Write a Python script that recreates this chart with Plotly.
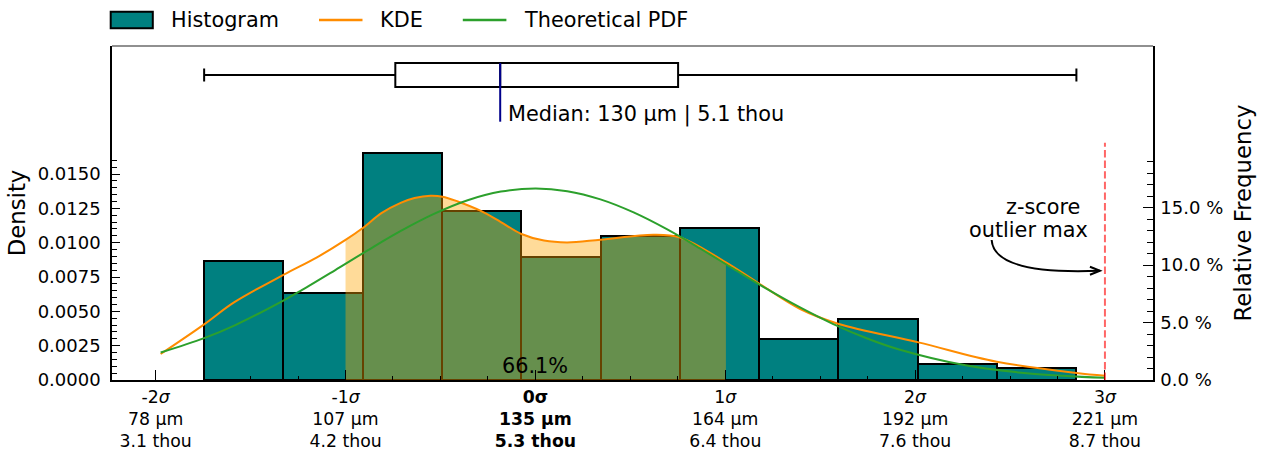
import plotly.graph_objects as go

# ---------------- data ----------------
bin_edges_um = [85.30, 97.25, 109.19, 121.14, 133.08, 145.03, 156.97,
                168.92, 180.86, 192.81, 204.75, 216.70]
bin_density = [0.00869, 0.00631, 0.01650, 0.01231, 0.00898, 0.01049,
               0.01107, 0.00301, 0.00446, 0.00117, 0.00087]

kde_x_um = [78.75, 85.3, 89.8, 97.3, 102.3, 106.6, 109.2, 112.0, 114.9, 117.0,
            119.4, 121.2, 123.5, 126.9, 130.0, 133.1, 136.5, 140.0, 145.0, 153.0,
            157.0, 163.9, 169.0, 175.1, 180.9, 192.9, 204.7, 216.7, 221.0]
kde_density = [0.00189, 0.00405, 0.00565, 0.00767, 0.00893, 0.01020, 0.01107,
               0.01215, 0.01290, 0.01325, 0.01342, 0.01335, 0.01300, 0.01233,
               0.01150, 0.01063, 0.01015, 0.01002, 0.01022, 0.01058, 0.01038,
               0.00856, 0.00699, 0.00517, 0.00408, 0.00274, 0.00133, 0.00051,
               0.00031]

pdf_x_um = [78.75, 85.3, 90.0, 97.3, 100.0, 105.0, 110.0, 115.0, 120.0, 125.0,
            130.0, 135.2, 140.0, 145.0, 150.0, 155.0, 160.0, 165.0, 170.0,
            175.0, 180.0, 185.0, 190.0, 200.0, 210.0, 221.0]
pdf_density = [0.00200, 0.00305, 0.00400, 0.00580, 0.00654, 0.00799, 0.00946,
               0.01087, 0.01211, 0.01309, 0.01372, 0.01395, 0.01375, 0.01315,
               0.01220, 0.01098, 0.00958, 0.00811, 0.00665, 0.00530, 0.00409,
               0.00306, 0.00222, 0.00107, 0.00046, 0.00016]

mean_um = 135.2
sigma_um = 28.6
box_lowerfence_um = 85.3
box_q1_um = 114.1
box_median_um = 129.9
box_q3_um = 156.7
box_upperfence_um = 216.7
within_1sigma_text = "66.1%"
median_text = "Median: 130 µm | 5.1 thou"
outlier_max_um = 221.0
outlier_line_top = 0.01728

x_tick_sigma = [-2, -1, 0, 1, 2, 3]
x_tick_sigma_text = ["-2σ", "-1σ", "0σ", "1σ", "2σ", "3σ"]
x_tick_um_text = ["78 µm", "107 µm", "135 µm", "164 µm", "192 µm", "221 µm"]
x_tick_thou_text = ["3.1 thou", "4.2 thou", "5.3 thou", "6.4 thou", "7.6 thou", "8.7 thou"]

y_tick_vals = [0.0, 0.0025, 0.005, 0.0075, 0.01, 0.0125, 0.015]
y_tick_text = ["0.0000", "0.0025", "0.0050", "0.0075", "0.0100", "0.0125", "0.0150"]
rf_tick_vals = [0, 5, 10, 15]
rf_tick_text = ["0.0 %", "5.0 %", "10.0 %", "15.0 %"]

legend_names = ["Histogram", "KDE", "Theoretical PDF"]

# ---------------- styling / layout constants ----------------
W, H = 1268, 452
ML, MR, MT, MB = 112, 115, 46, 72
PW, PH = W - ML - MR, H - MT - MB
FONT = "DejaVu Sans"
TEAL = "#008080"
KDE_C = "darkorange"
PDF_C = "#2ca02c"
FILL_C = "rgba(255,165,0,0.4)"

x_range = [71.42, 228.24]
y_range = [0.0, 0.02432]
y3_range = [-0.9132, 0.0868]

px_per_x = PW / (x_range[1] - x_range[0])
px_per_y = PH / (y_range[1] - y_range[0])

def dx(px):
    return px / px_per_x

def dy(px):
    return px / px_per_y

def paper_x(px):
    return (px - ML) / PW

def paper_y(py):
    return (MT + PH - py) / PH

bin_centers = [(a + b) / 2 for a, b in zip(bin_edges_um[:-1], bin_edges_um[1:])]
bin_widths = [b - a for a, b in zip(bin_edges_um[:-1], bin_edges_um[1:])]
mean_bin_width = sum(bin_widths) / len(bin_widths)

lo, hi = mean_um - sigma_um, mean_um + sigma_um
fill_pts = [(x, y) for x, y in zip(kde_x_um, kde_density) if lo - 0.5 <= x <= hi + 0.5]

fig = go.Figure()

fig.add_trace(go.Bar(
    x=bin_centers, y=bin_density, width=bin_widths,
    marker=dict(color=TEAL, line=dict(color="black", width=2)),
    name=legend_names[0], showlegend=False, hoverinfo="skip"))

fig.add_trace(go.Scatter(
    x=[p[0] for p in fill_pts], y=[p[1] for p in fill_pts],
    mode="lines", line=dict(width=0, shape="spline"),
    fill="tozeroy", fillcolor=FILL_C, showlegend=False, hoverinfo="skip"))

fig.add_trace(go.Scatter(
    x=kde_x_um, y=kde_density, mode="lines",
    line=dict(color=KDE_C, width=2, shape="spline"),
    name=legend_names[1], showlegend=False))

fig.add_trace(go.Scatter(
    x=pdf_x_um, y=pdf_density, mode="lines",
    line=dict(color=PDF_C, width=2, shape="spline"),
    name=legend_names[2], showlegend=False))

# box plot in the top band (overlaid axis)
box_w = 24 / PH * (y3_range[1] - y3_range[0])
fig.add_trace(go.Box(
    y=[0], q1=[box_q1_um], median=[box_median_um], q3=[box_q3_um],
    lowerfence=[box_lowerfence_um], upperfence=[box_upperfence_um],
    orientation="h", width=box_w, whiskerwidth=0.55,
    fillcolor="white", line=dict(color="black", width=2),
    boxpoints=False, yaxis="y3", showlegend=False, hoverinfo="skip"))

y3_per_px = (y3_range[1] - y3_range[0]) / PH
fig.add_trace(go.Scatter(
    x=[box_median_um, box_median_um], y=[box_w / 2, -46.7 * y3_per_px],
    mode="lines", line=dict(color="darkblue", width=2),
    yaxis="y3", showlegend=False, hoverinfo="skip"))

fig.add_trace(go.Scatter(x=[mean_um], y=[0.0], yaxis="y2", mode="markers",
                         marker=dict(opacity=0), showlegend=False, hoverinfo="skip"))

# ---------------- ticks ----------------
x_tick_vals = [mean_um + k * sigma_um for k in x_tick_sigma]
x_tick_text = []
for k, s, u, t in zip(x_tick_sigma, x_tick_sigma_text, x_tick_um_text, x_tick_thou_text):
    if k == 0:
        x_tick_text.append(f"<b>{s}</b><br><b>{u}</b><br><b>{t}</b>")
    else:
        x_tick_text.append(f"{s[:-1]}<i>σ</i><br>{u}<br>{t}")
x_minor = [mean_um + q * sigma_um / 4 for q in range(-8, 13) if q % 4 != 0]
y_minor = [i * 0.0005 for i in range(0, 33) if i % 5 != 0]
rf_minor = [i for i in range(0, 20) if i % 5 != 0]

tickfont = dict(family=FONT, size=18, color="black")

fig.update_layout(
    width=W, height=H, template="none",
    margin=dict(l=ML, r=MR, t=MT, b=MB, autoexpand=False),
    paper_bgcolor="white", plot_bgcolor="white",
    font=dict(family=FONT, size=18, color="black"),
    bargap=0, showlegend=False,
    xaxis=dict(range=x_range, showgrid=False, zeroline=False,
               showline=True, linecolor="black", linewidth=1.5,
               ticks="inside", ticklen=10, tickwidth=1.2, tickcolor="black",
               tickvals=x_tick_vals, ticktext=x_tick_text,
               tickfont=dict(family=FONT, size=17.3, color="black"),
               ticklabelstandoff=0, automargin=False,
               minor=dict(tickvals=x_minor, ticks="inside", ticklen=4,
                          tickwidth=1, tickcolor="black", showgrid=False)),
    yaxis=dict(range=y_range, showgrid=False, zeroline=False,
               showline=True, linecolor="black", linewidth=1.5,
               ticks="inside", ticklen=8, tickwidth=1.2, tickcolor="black",
               tickvals=y_tick_vals, ticktext=y_tick_text, tickfont=tickfont,
               ticklabelstandoff=6, automargin=False,
               title=dict(text="Density", font=dict(family=FONT, size=22.8), standoff=6),
               minor=dict(tickvals=y_minor, ticks="inside", ticklen=5,
                          tickwidth=1, tickcolor="black", showgrid=False)),
    yaxis2=dict(range=[y_range[0] * mean_bin_width * 100, y_range[1] * mean_bin_width * 100],
                overlaying="y", side="right", anchor="x",
                showgrid=False, zeroline=False,
                showline=True, linecolor="black", linewidth=1.5,
                ticks="inside", ticklen=10, tickwidth=1.2, tickcolor="black",
                tickvals=rf_tick_vals, ticktext=rf_tick_text, tickfont=tickfont,
                ticklabelstandoff=2, automargin=False,
                title=dict(text="Relative Frequency", font=dict(family=FONT, size=22.8), standoff=13),
                minor=dict(tickvals=rf_minor, ticks="inside", ticklen=6,
                           tickwidth=1, tickcolor="black", showgrid=False)),
    yaxis3=dict(range=y3_range, overlaying="y", visible=False, fixedrange=True),
)

shapes = []
# top frame line of the box band
shapes.append(dict(type="line", xref="paper", yref="paper", x0=0, x1=1, y0=1, y1=1,
                   line=dict(color="#222", width=1.2)))
# z-score outlier max line
shapes.append(dict(type="line", xref="x", yref="y", x0=outlier_max_um, x1=outlier_max_um,
                   y0=0, y1=outlier_line_top,
                   line=dict(color="rgba(255,0,0,0.6)", width=2, dash="7.4px,3.2px")))
# curved arrow
tip_x, tip_y = outlier_max_um - dx(5), dy(109.3)
st_x, st_y = outlier_max_um - dx(113.3), dy(140)
c_x, c_y = outlier_max_um - dx(111), dy(105)
shapes.append(dict(type="path", xref="x", yref="y",
                   path=f"M {st_x},{st_y} Q {c_x},{c_y} {tip_x},{tip_y}",
                   line=dict(color="black", width=2)))
shapes.append(dict(type="path", xref="x", yref="y",
                   path=f"M {tip_x - dx(10)},{tip_y + dy(4)} L {tip_x},{tip_y} L {tip_x - dx(10)},{tip_y - dy(4)}",
                   line=dict(color="black", width=2)))
# manual legend
shapes.append(dict(type="rect", xref="paper", yref="paper",
                   x0=paper_x(110.7), x1=paper_x(152.8), y0=paper_y(28.3), y1=paper_y(11.7),
                   fillcolor=TEAL, line=dict(color="black", width=2)))
shapes.append(dict(type="line", xref="paper", yref="paper",
                   x0=paper_x(319), x1=paper_x(362.5), y0=paper_y(20), y1=paper_y(20),
                   line=dict(color=KDE_C, width=2.5)))
shapes.append(dict(type="line", xref="paper", yref="paper",
                   x0=paper_x(462.8), x1=paper_x(506.4), y0=paper_y(20), y1=paper_y(20),
                   line=dict(color=PDF_C, width=2.5)))
fig.update_layout(shapes=shapes)

big = dict(family=FONT, size=20.8, color="black")
ann = []
for name, px in zip(legend_names, [169, 378, 522]):
    ann.append(dict(xref="paper", yref="paper", x=paper_x(px), y=paper_y(20.1),
                    text=name, showarrow=False, xanchor="left", yanchor="middle", font=big))
ann.append(dict(xref="x", yref="y", x=mean_um, y=dy(13.9), text=within_1sigma_text,
                showarrow=False, xanchor="center", yanchor="middle", font=big))
ann.append(dict(xref="x", yref="y3", x=box_median_um, y=-39.5 * y3_per_px, text=median_text,
                showarrow=False, xanchor="left", yanchor="middle", xshift=6, font=big))
ann.append(dict(xref="x", yref="y", x=outlier_max_um - dx(61.7), y=dy(172.9), text="z-score",
                showarrow=False, xanchor="center", yanchor="middle", font=big))
ann.append(dict(xref="x", yref="y", x=outlier_max_um - dx(76.3), y=dy(150.5), text="outlier max",
                showarrow=False, xanchor="center", yanchor="middle", font=big))
fig.update_layout(annotations=ann)

fig.write_html("out.html", config={"displayModeBar": False},
               post_script="document.body.style.margin='0px';")
